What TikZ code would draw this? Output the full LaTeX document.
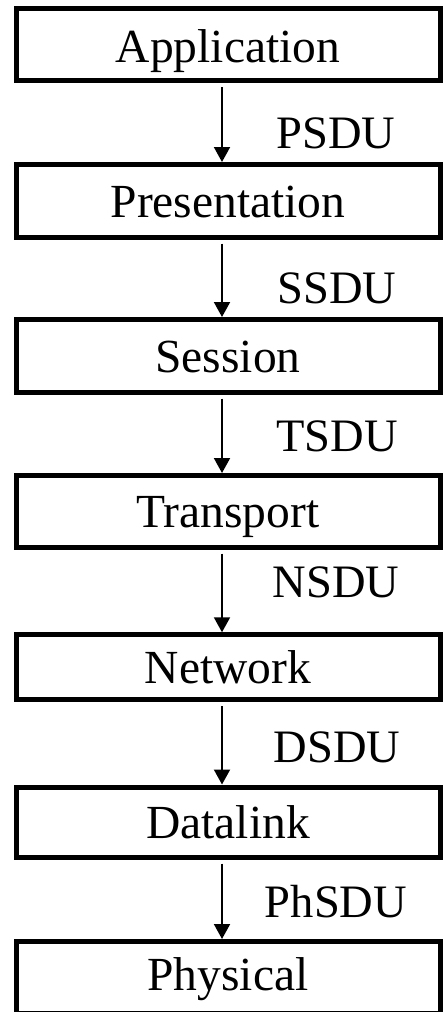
\documentclass[tikz,border=0pt]{standalone}
\usepackage{fontspec}
\setmainfont{Liberation Serif}
\usetikzlibrary{arrows.meta}
\begin{document}
\begin{tikzpicture}[x=1pt,y=-1pt,
  layer/.style={draw=black, line width=5pt, minimum width=424pt, inner sep=0pt,
    font=\fontsize{47.5}{50}\selectfont, text height=33pt, text depth=0pt},
  pdu/.style={font=\fontsize{46.5}{50}\selectfont, anchor=base, inner sep=0pt},
  flow/.style={line width=2pt, -{Triangle[width=16pt,length=15pt]}, shorten <=4pt}
]
\useasboundingbox (0,0) rectangle (443,1012);
\node[layer, minimum height=72pt, text height=36pt] (app)  at (228,44.5)  {Application};
\node[layer, minimum height=72.5pt] (pres) at (228,200.75) {Presentation};
\node[layer, minimum height=72.5pt] (ses)  at (228,355.75) {Session};
\node[layer, minimum height=71.5pt] (tra)  at (228,511.25) {Transport};
\node[layer, minimum height=65pt] (net)  at (228,667.25) {Network};
\node[layer, minimum height=70pt] (dat)  at (228,822) {Datalink};
\node[layer, minimum height=72pt, text height=25pt] (phy)  at (228,977.5) {Physical};

\draw[flow] ([xshift=-6pt]app.south) -- ([xshift=-6pt]pres.north);
\draw[flow] ([xshift=-6pt]pres.south) -- ([xshift=-6pt]ses.north);
\draw[flow] ([xshift=-6pt]ses.south) -- ([xshift=-6pt]tra.north);
\draw[flow] ([xshift=-6pt]tra.south) -- ([xshift=-6pt]net.north);
\draw[flow] ([xshift=-6pt]net.south) -- ([xshift=-6pt]dat.north);
\draw[flow] ([xshift=-6pt]dat.south) -- ([xshift=-6pt]phy.north);

\node[pdu] (psdu) at (336,148) {PSDU};
\node[pdu] (ssdu) at (337,303) {SSDU};
\node[pdu] (tsdu) at (337,451) {TSDU};
\node[pdu] (nsdu) at (336,597) {NSDU};
\node[pdu] (dsdu) at (337,762) {DSDU};
\node[pdu] (phsdu) at (336,917) {PhSDU};
\end{tikzpicture}
\end{document}
